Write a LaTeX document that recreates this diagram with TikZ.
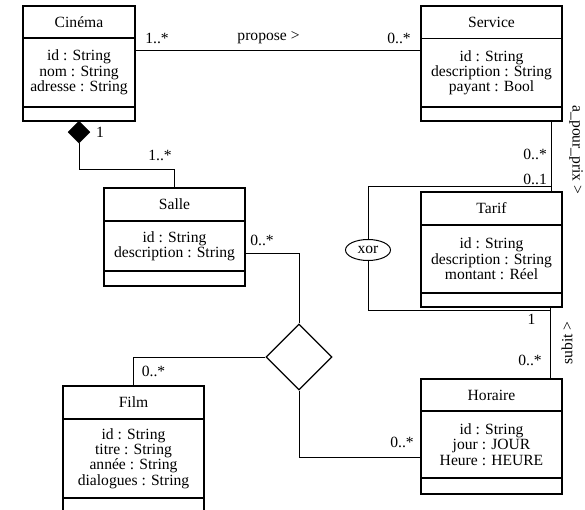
\documentclass[tikz,border=0pt]{standalone}
\usepackage{fontspec}
\setmainfont{Liberation Serif}
\usetikzlibrary{shapes.geometric,calc}
\begin{document}
\begin{tikzpicture}[x=1pt,y=-1pt,
  every node/.style={font=\fontsize{15.6}{15.4}\selectfont},
  part/.style n args={2}{draw, line width=1.2pt, minimum width=#1, minimum height=#2,
    inner sep=0pt, outer sep=0pt, align=center, anchor=north},
  link/.style={line width=1pt},
  mult/.style={anchor=base, inner sep=0pt},
]
\useasboundingbox (0,0) rectangle (585,510);
\clip (0,0) rectangle (585,510);

% ---- classes: title / attributes / operations ----
\node[part={112pt}{32pt}] (cinema-t) at (79,6) {Cinéma};
\node[part={112pt}{69pt}] (cinema-a) at (cinema-t.south) {id : String\\nom : String\\adresse : String};
\node[part={112pt}{14pt}] (cinema-o) at (cinema-a.south) {};

\node[part={141pt}{32.5pt}] (service-t) at (491.5,6) {Service};
\node[part={141pt}{68.5pt}] (service-a) at (service-t.south) {id : String\\description : String\\payant : Bool};
\node[part={141pt}{14pt}] (service-o) at (service-a.south) {};

\node[part={141pt}{33pt}] (salle-t) at (174.5,188) {Salle};
\node[part={141pt}{50pt}] (salle-a) at (salle-t.south) {id : String\\description : String};
\node[part={141pt}{15pt}] (salle-o) at (salle-a.south) {};

\node[part={141pt}{33pt}] (tarif-t) at (491.5,192) {Tarif};
\node[part={141pt}{68pt}] (tarif-a) at (tarif-t.south) {id : String\\description : String\\montant : Réel};
\node[part={141pt}{14pt}] (tarif-o) at (tarif-a.south) {};

\node[part={141pt}{32pt}] (horaire-t) at (491.5,379) {Horaire};
\node[part={141pt}{67pt}] (horaire-a) at (horaire-t.south) {id : String\\jour : JOUR\\Heure : HEURE};
\node[part={141pt}{16pt}] (horaire-o) at (horaire-a.south) {};

\node[part={141pt}{33pt}] (film-t) at (133.5,386) {Film};
\node[part={141pt}{79pt}] (film-a) at (film-t.south) {id : String\\titre : String\\année : String\\dialogues : String};
\node[part={141pt}{16pt}] (film-o) at (film-a.south) {};

% ---- composition Cinéma <>-- Salle ----
\node[diamond, draw, fill=black, minimum width=22pt, minimum height=22pt,
  inner sep=0pt, anchor=north] (comp) at (cinema-o.south) {};
\draw[link] (comp.south) -- ++(0,26) -| (salle-t.north);

% ---- ternary association Salle / Film / Horaire ----
\node[diamond, draw, line width=1.2pt, minimum width=66pt, minimum height=66pt,
  inner sep=0pt] (assoc) at (299,357) {};
\draw[link] ([yshift=-7pt]salle-a.east) -| (assoc.north);
\draw[link] (assoc.west) -| (film-t.north);
\draw[link] (assoc.south) |- ([yshift=-12.5pt]horaire-a.west);

% ---- Cinéma -- Service ----
\draw[link] ([yshift=-13pt]cinema-a.north east) -- ([yshift=-12.5pt]service-a.north west);

% ---- Service -- Tarif and Tarif -- Horaire ----
\coordinate (st) at ([xshift=59.5pt]service-o.south);
\coordinate (th) at ([xshift=58.5pt]tarif-o.south);
\draw[link] (st) -- (st |- tarif-t.north);
\draw[link] (th) -- (th |- horaire-t.north);

% ---- xor constraint ----
\node[ellipse, draw, line width=1pt, minimum width=45pt, minimum height=21pt,
  inner sep=0pt] (xor) at (368,250) {xor};
\coordinate (xtop) at (st |- 0,187);
\coordinate (xbot) at (th |- 0,310);
\draw[link] (xtop) -| (xor.north);
\draw[link] (xor.south) |- (xbot);

% ---- multiplicities and role names ----
\node[mult] (m1) at (157,44) {1..*};
\node[mult] (m2) at (399,44) {0..*};
\node[mult] (lprop) at (268.5,41) {propose >};
\node[mult] (m3) at (100,138) {1};
\node[mult] (m4) at (160,161) {1..*};
\node[mult] (m5) at (262,245) {0..*};
\node[mult] (m6) at (153.5,376) {0..*};
\node[mult] (m7) at (402,447) {0..*};
\node[mult, anchor=base east] (m8) at (547,160) {0..*};
\node[mult, anchor=base east] (m9) at (547,185) {0..1};
\node[mult] (m10) at (531.5,324) {1};
\node[mult] (m11) at (530,365) {0..*};
\node[rotate=-90, inner sep=0pt] (lprix) at (576,150) {a\_pour\_prix >};
\node[rotate=90, inner sep=0pt] (lsubit) at (567,343) {subit >};
\end{tikzpicture}
\end{document}
